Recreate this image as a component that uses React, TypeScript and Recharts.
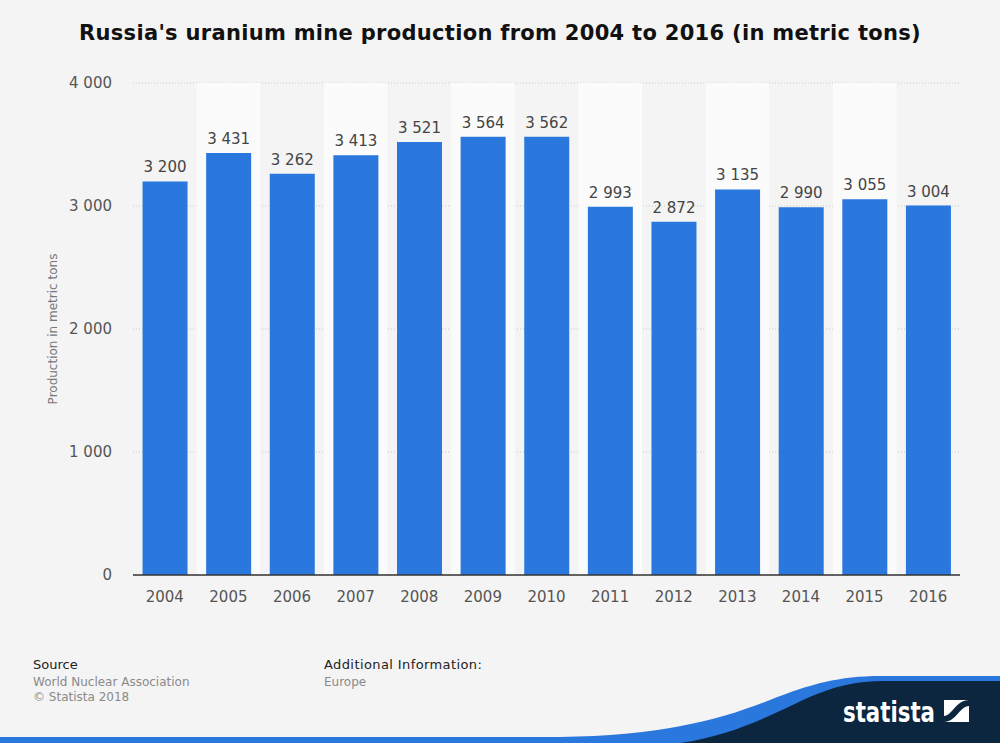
import React from "react";
import {
  BarChart,
  Bar,
  XAxis,
  YAxis,
  CartesianGrid,
  LabelList,
  ReferenceArea,
} from "recharts";

const years = ["2004", "2005", "2006", "2007", "2008", "2009", "2010", "2011", "2012", "2013", "2014", "2015", "2016"];
const production = [3200, 3431, 3262, 3413, 3521, 3564, 3562, 2993, 2872, 3135, 2990, 3055, 3004];
const yTicks = [0, 1000, 2000, 3000, 4000];

const data = years.map((year, i) => ({ year, value: production[i] }));
// lighter background bands behind every other year
const bandYears = years.filter((_, i) => i % 2 === 1);

// space as thousands separator; nbsp so the label text does not wrap
const fmt = (v: number) => v.toLocaleString("en-US").replace(/,/g, "\u00a0");
const font = "'DejaVu Sans', sans-serif";

export default function App() {
  return (
    <div
      style={{
        position: "fixed",
        left: 0,
        top: 0,
        width: 1000,
        height: 743,
        background: "#f4f4f4",
        fontFamily: font,
        overflow: "hidden",
      }}
    >
      <div
        style={{
          position: "absolute",
          top: 21,
          width: 1000,
          textAlign: "center",
          fontWeight: "bold",
          fontSize: 21,
          letterSpacing: 0.3,
          color: "#111",
        }}
      >
        Russia's uranium mine production from 2004 to 2016 (in metric tons)
      </div>

      <BarChart
        width={1000}
        height={743}
        data={data}
        margin={{ top: 83, right: 40, bottom: 138, left: 73 }}
        barCategoryGap="15%"
      >
        {bandYears.map((y) => (
          <ReferenceArea
            key={y}
            x1={y}
            x2={y}
            y1={0}
            y2={4000}
            fill="#fbfbfb"
            fillOpacity={1}
            stroke="none"
            ifOverflow="extendDomain"
          />
        ))}
        <CartesianGrid vertical={false} stroke="#c8c8c8" strokeDasharray="1 2" />
        <XAxis
          dataKey="year"
          axisLine={{ stroke: "#333", strokeWidth: 1.5 }}
          tickLine={false}
          tickMargin={10}
          tick={{ fill: "#555", fontSize: 15, fontFamily: font }}
          height={30}
        />
        <YAxis
          domain={[0, 4000]}
          ticks={yTicks}
          width={60}
          axisLine={false}
          tickLine={false}
          tickSize={0}
          tickMargin={21}
          tickFormatter={(v: number) => v.toLocaleString("en-US").replace(/,/g, " ")}
          tick={{ fill: "#555", fontSize: 15, fontFamily: font }}
          label={{
            value: "Production in metric tons",
            angle: -90,
            position: "insideLeft",
            offset: -20,
            style: { fill: "#777", fontSize: 12, fontFamily: font, textAnchor: "middle" },
          }}
        />
        <Bar dataKey="value" fill="#2a77dd" isAnimationActive={false}>
          <LabelList
            dataKey="value"
            position="top"
            offset={9}
            formatter={(v: number) => fmt(v)}
            style={{ fill: "#444", fontSize: 15, fontFamily: font }}
          />
        </Bar>
      </BarChart>

      <div style={{ position: "absolute", left: 33, top: 657, fontSize: 13, color: "#222" }}>Source</div>
      <div style={{ position: "absolute", left: 33, top: 675, fontSize: 12, color: "#8a8a8a", lineHeight: "15px" }}>
        World Nuclear Association
        <br />© Statista 2018
      </div>
      <div style={{ position: "absolute", left: 324, top: 657, fontSize: 13, color: "#222", letterSpacing: 0.4 }}>
        Additional Information:
      </div>
      <div style={{ position: "absolute", left: 324, top: 675, fontSize: 12, color: "#8a8a8a" }}>Europe</div>

      <svg width={1000} height={743} style={{ position: "absolute", left: 0, top: 0, pointerEvents: "none" }}>
        <path
          d="M0 737 L560 737 C660 736 720 720 770 700 C810 684 840 676 880 676 L1000 676 L1000 743 L0 743 Z"
          fill="#2a77dd"
        />
        <path
          d="M680 743 C730 736 770 716 805 699 C835 686 855 681 885 681 L1000 681 L1000 743 Z"
          fill="#0c2640"
        />
        <text
          x={843}
          y={722}
          fill="#fff"
          fontSize={28}
          fontWeight="bold"
          textLength={92}
          lengthAdjust="spacingAndGlyphs"
          fontFamily="'DejaVu Sans', sans-serif"
        >
          statista
        </text>
        <rect x={944} y={700} width={25} height={22} fill="#fff" />
        <path d="M944 722 L944 716 C952 716 956 700 969 700 L969 706 C960 706 956 722 944 722 Z" fill="#0c2640" />
      </svg>
    </div>
  );
}
